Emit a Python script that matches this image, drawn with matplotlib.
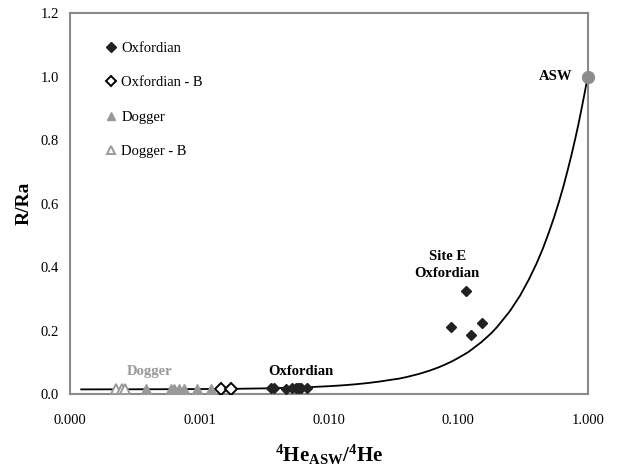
import matplotlib
matplotlib.use("Agg")
import matplotlib.pyplot as plt
from matplotlib.ticker import FixedLocator, FuncFormatter, NullLocator

plt.rcParams["font.family"] = ["Liberation Serif", "DejaVu Serif"]
plt.rcParams["mathtext.fontset"] = "custom"
plt.rcParams["mathtext.rm"] = "Liberation Serif"
plt.rcParams["mathtext.bf"] = "Liberation Serif:bold"

# 4He_ASW/4He and R/Ra
oxf_x = [0.00357, 0.00376, 0.00466, 0.00518, 0.00556, 0.00576, 0.00590, 0.00608, 0.00676]
oxf_y = [0.018, 0.018, 0.016, 0.018, 0.019, 0.018, 0.019, 0.019, 0.020]
site_e_x = [0.0875, 0.114, 0.125, 0.152]
site_e_y = [0.21, 0.325, 0.185, 0.225]
oxf_b_x = [0.00147, 0.00175]
oxf_b_y = [0.016, 0.016]
dog_x = [0.000386, 0.00060, 0.00064, 0.00069, 0.00076, 0.00096, 0.00123]
dog_y = [0.016, 0.016, 0.016, 0.016, 0.016, 0.016, 0.016]
dog_b_x = [0.000227, 0.000250, 0.000266]
dog_b_y = [0.016, 0.016, 0.016]
asw_x, asw_y = 1.0, 1.0

# mixing curve, read at points along the line
curve_x = [0.000122, 0.0005, 0.001, 0.002, 0.003, 0.005, 0.007, 0.01, 0.013, 0.016,
           0.02, 0.025, 0.03, 0.035, 0.04, 0.05, 0.06, 0.07, 0.08, 0.09, 0.1, 0.12,
           0.15, 0.18, 0.2, 0.25, 0.3, 0.35, 0.4, 0.45, 0.5, 0.55, 0.6, 0.65, 0.7,
           0.75, 0.8, 0.85, 0.9, 0.95, 1.0]
curve_y = [0.015, 0.0155, 0.016, 0.017, 0.018, 0.020, 0.022, 0.025, 0.028, 0.031,
           0.035, 0.040, 0.045, 0.049, 0.054, 0.064, 0.074, 0.084, 0.094, 0.104, 0.114, 0.133,
           0.163, 0.192, 0.212, 0.261, 0.31, 0.360, 0.409, 0.458, 0.508, 0.557, 0.606, 0.655, 0.705,
           0.754, 0.803, 0.852, 0.902, 0.951, 1.0]

x_ticks = [0.0001, 0.001, 0.01, 0.1, 1.0]
y_ticks = [0.0, 0.2, 0.4, 0.6, 0.8, 1.0, 1.2]

DARK = "#222222"
GREY = "#999999"

fig = plt.figure(figsize=(6.17, 4.67), dpi=100)
ax = fig.add_axes([0.1135, 0.156, 0.839, 0.816])

ax.plot(curve_x, curve_y, color="black", lw=1.3, zorder=2)

ax.plot(oxf_x + site_e_x, oxf_y + site_e_y, "D", color=DARK, ms=5.5, ls="none",
        label="Oxfordian", zorder=3)
ax.plot(oxf_b_x, oxf_b_y, "D", mfc="white", mec="black", mew=1.4, ms=6, ls="none",
        label="Oxfordian - B", zorder=3)
ax.plot(dog_x, dog_y, "^", color=GREY, ms=6.5, ls="none", label="Dogger", zorder=3)
ax.plot(dog_b_x, dog_b_y, "^", mfc="white", mec=GREY, mew=1.4, ms=7.5, ls="none",
        label="Dogger - B", zorder=3)
ax.plot([asw_x], [asw_y], "o", color="#8c8c8c", ms=8.5, zorder=4, clip_on=False)

ax.set_xscale("log")
ax.set_xlim(0.0001, 1.0)
ax.set_ylim(0, 1.2)
ax.xaxis.set_major_locator(FixedLocator(x_ticks))
ax.xaxis.set_minor_locator(NullLocator())
ax.xaxis.set_major_formatter(FuncFormatter(lambda v, p: f"{v:.3f}"))
ax.set_yticks(y_ticks)
ax.yaxis.set_major_formatter(FuncFormatter(lambda v, p: f"{v:.1f}"))
ax.tick_params(axis="x", length=0, labelsize=10.5, pad=14)
ax.tick_params(axis="y", length=0, labelsize=10.5, pad=8)

for s in ax.spines.values():
    s.set_color("#8a8a8a")
    s.set_linewidth(1.5)

ax.text(0.000415, 0.07, "Dogger", color=GREY, fontsize=10.5, fontweight="bold",
        ha="center", va="center")
ax.text(0.00608, 0.07, "Oxfordian", color="black", fontsize=10.5, fontweight="bold",
        ha="center", va="center")
ax.text(0.082, 0.36, "Site E\nOxfordian", color="black", fontsize=10.5, fontweight="bold",
        ha="center", va="bottom", linespacing=1.35)
ax.text(0.76, 1.0, "ASW", color="black", fontsize=10.5, fontweight="bold", ha="right", va="center")

ax.set_ylabel("R/Ra", fontsize=14, fontweight="bold", labelpad=6)
ax.set_xlabel(r"$\mathbf{^{4}He_{ASW}/^{4}He}$", fontsize=15, labelpad=12)

ax.legend(loc="upper left", bbox_to_anchor=(0.057, 0.94), frameon=False, fontsize=10.5,
          handletextpad=0.3, labelspacing=1.45, handlelength=0.8, borderaxespad=0,
          markerscale=0.85)

fig.savefig("out.png", dpi=100)
